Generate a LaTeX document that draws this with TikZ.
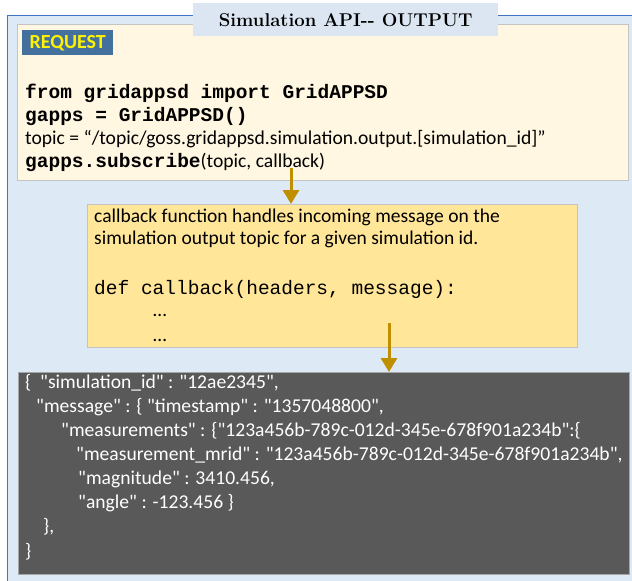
\documentclass[tikz,border=0pt]{standalone}
\usepackage{fontspec}
\newfontfamily\calibri{Carlito}
\newfontfamily\courier{Liberation Mono}
\usepackage{tikz}
\usetikzlibrary{positioning,arrows.meta}

\definecolor{outerblue}{HTML}{DEE9F6}
\definecolor{frameblue}{HTML}{4472C4}
\definecolor{titleblue}{HTML}{DCE6F2}
\definecolor{reqcream}{HTML}{FFF7E1}
\definecolor{reqlabel}{HTML}{44709D}
\definecolor{cbyellow}{HTML}{FFE699}
\definecolor{jsongray}{HTML}{595959}
\definecolor{arrowgold}{HTML}{BF8F00}
\definecolor{boxline}{HTML}{C4C4C4}

\begin{document}
\begin{tikzpicture}[x=1pt, y=-1pt,
  > = {Triangle[width=16pt,length=14pt]},
  box/.style={draw=boxline, line width=1pt, inner sep=0pt, anchor=north west},
  txt/.style={anchor=base west, align=left, inner sep=0pt},
  flow/.style={->, draw=arrowgold, fill=arrowgold, line width=3pt}]
\useasboundingbox (0,0) rectangle (632,581);
\clip (0,0) rectangle (632,581);

% outer frame and title
\node (frame) [box, draw=frameblue, fill=outerblue, minimum width=640pt, minimum height=600pt] at (7,15) {};
\node (reqbox) [box, fill=reqcream, minimum width=611pt, minimum height=156pt] at (17,24) {};
\node (title) [anchor=north west, fill=titleblue, inner sep=0pt, minimum width=305pt, minimum height=33pt,
  font=\bfseries\fontsize{18.5}{22}\selectfont] at (193,3) {Simulation API{-}{-} OUTPUT};

% request (base anchor = last line)
\node (reqlab) [anchor=north west, fill=reqlabel, text=yellow, inner sep=0pt, minimum width=91pt, minimum height=25pt,
  font=\calibri\fontsize{20}{22}\selectfont\bfseries] at (22,30) {REQUEST};
\node (reqcode) [txt, font=\fontsize{19.5}{23}\selectfont] at (25,167)
  {{\courier\bfseries from gridappsd import GridAPPSD}\\
   {\courier\bfseries gapps = GridAPPSD()}\\
   {\calibri\fontsize{19.6}{23}\selectfont topic = “/topic/goss.gridappsd.simulation.output.[simulation\_id]”}\\
   {\courier\bfseries gapps.subscribe}{\calibri\fontsize{19.6}{23}\selectfont (topic, callback)}};

% callback
\node (cbbox) [box, fill=cbyellow, minimum width=490pt, minimum height=143pt] at (87,204) {};
\node (cbtext) [txt, font=\calibri\fontsize{19.5}{25}\selectfont] at (94,341)
  {callback function handles incoming message on the\\[-3pt]
   simulation output topic for a given simulation id.\\[25pt]
   {\courier\fontsize{19.5}{25}\selectfont def callback(headers, message):}\\[-3pt]
   \hspace*{59pt}…\\
   \hspace*{59pt}…};

% output message
\node (jsonbox) [box, draw=gray!70, fill=jsongray, minimum width=611pt, minimum height=202pt] at (18,372) {};
\node (jsontext) [txt, text=white, font=\calibri\fontsize{19.6}{24}\selectfont] at (25,557)
  {\{\ \ "simulation\_id" : "12ae2345",\\
   \hspace*{11pt}"message" : \{ "timestamp" : "1357048800",\\
   \hspace*{36pt}"measurements" : \{"123a456b-789c-012d-345e-678f901a234b":\{\\
   \hspace*{51pt}"measurement\_mrid" : "123a456b-789c-012d-345e-678f901a234b",\\
   \hspace*{53pt}"magnitude" : 3410.456,\\
   \hspace*{53pt}"angle" : -123.456 \}\\
   \hspace*{18pt}\},\\[1pt]
   \}};

\coordinate (cbstart) at (291,168);
\coordinate (jsonstart) at (389,323);
\draw[flow] (cbstart) -- (cbstart |- cbbox.north);
\draw[flow] (jsonstart) -- (jsonstart |- jsonbox.north);
\end{tikzpicture}
\end{document}
